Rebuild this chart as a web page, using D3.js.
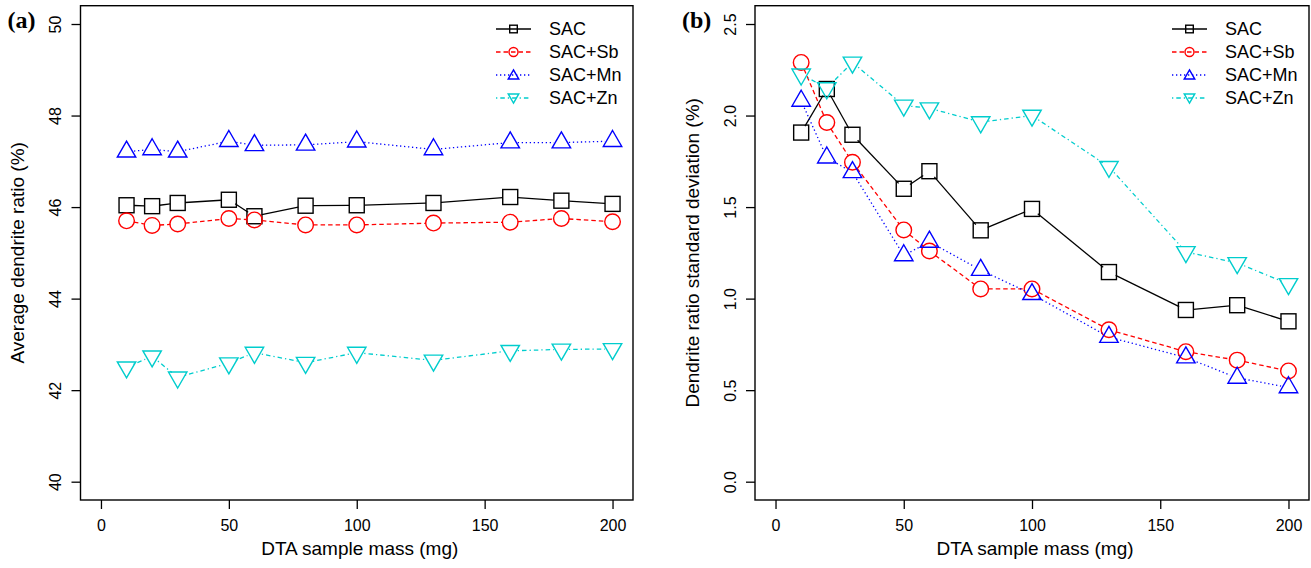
<!DOCTYPE html>
<html>
<head>
<meta charset="utf-8">
<script src="https://cdn.jsdelivr.net/npm/d3@7"></script>
<style>
  body { margin: 0; background: #fff; }
  svg { display: block; }
  text { font-family: "Liberation Sans", Arial, Helvetica, sans-serif; fill: #000; }
</style>
</head>
<body>
<svg id="chart" width="1311" height="568"></svg>
<script>
// ---------- data ----------
const mass = [10, 20, 30, 50, 60, 80, 100, 130, 160, 180, 200];
const seriesNames = ["SAC", "SAC+Sb", "SAC+Mn", "SAC+Zn"];

// Panel (a): average dendrite ratio (%)
const avgSAC = [46.04, 46.02, 46.09, 46.16, 45.80, 46.03, 46.04, 46.09, 46.22, 46.14, 46.07];
const avgSb  = [45.70, 45.60, 45.63, 45.75, 45.72, 45.61, 45.61, 45.65, 45.67, 45.75, 45.68];
const avgMn  = [47.21, 47.26, 47.21, 47.44, 47.35, 47.36, 47.43, 47.26, 47.41, 47.41, 47.44];
const avgZn  = [42.50, 42.74, 42.28, 42.59, 42.82, 42.60, 42.82, 42.65, 42.86, 42.89, 42.90];

// Panel (b): dendrite ratio standard deviation (%)
const sdSAC = [1.907, 2.145, 1.895, 1.600, 1.696, 1.373, 1.490, 1.145, 0.938, 0.964, 0.876];
const sdSb  = [2.290, 1.962, 1.745, 1.375, 1.260, 1.053, 1.053, 0.830, 0.710, 0.664, 0.605];
const sdMn  = [2.080, 1.770, 1.690, 1.236, 1.310, 1.156, 1.024, 0.790, 0.678, 0.567, 0.515];
const sdZn  = [2.225, 2.150, 2.290, 2.055, 2.040, 1.964, 2.000, 1.720, 1.255, 1.195, 1.080];

const xTicks = [0, 50, 100, 150, 200];
const yTicksA = [40, 42, 44, 46, 48, 50];
const yTicksB = [0.0, 0.5, 1.0, 1.5, 2.0, 2.5];

// ---------- styles ----------
const styles = [
  { color: "#000000", dash: null,        shape: "square" },
  { color: "#ff0000", dash: "4.5,3",     shape: "circle" },
  { color: "#0000ff", dash: "1.3,2.7",   shape: "up" },
  { color: "#00cdcd", dash: "1.3,3,4.5,3", shape: "down" }
];

const svg = d3.select("#chart");

function marker(g, shape, cx, cy, size, color) {
  if (shape === "square") {
    g.append("rect").attr("x", cx - size).attr("y", cy - size)
      .attr("width", 2 * size).attr("height", 2 * size)
      .attr("fill", "none").attr("stroke", color).attr("stroke-width", 1.4);
  } else if (shape === "circle") {
    g.append("circle").attr("cx", cx).attr("cy", cy).attr("r", size)
      .attr("fill", "none").attr("stroke", color).attr("stroke-width", 1.4);
  } else {
    const r = size * 1.42;
    const hw = r * 0.866, b = r / 2;
    const s = shape === "up" ? 1 : -1;
    const p = `M${cx},${cy - s * r} L${cx + hw},${cy + s * b} L${cx - hw},${cy + s * b} Z`;
    g.append("path").attr("d", p)
      .attr("fill", "none").attr("stroke", color).attr("stroke-width", 1.4);
  }
}

function panel(opts) {
  const { left, right, top, bottom, yDomain, yTicks, yFmt, data, yTitle, tag } = opts;
  const x = d3.scaleLinear().domain([-8, 208]).range([left, right]);
  const y = d3.scaleLinear().domain(yDomain).range([bottom, top]);
  const g = svg.append("g");

  const xa = g.append("g").attr("transform", `translate(0,${bottom})`)
    .call(d3.axisBottom(x).tickValues(xTicks).tickSize(9).tickPadding(6).tickFormat(d3.format("d")));
  xa.select(".domain").remove();
  xa.selectAll("line").attr("stroke", "#000").attr("stroke-width", 1.3);
  xa.selectAll("text").attr("font-size", 16).attr("y", 25).attr("dy", "0.35em")
    .style("font-family", '"Liberation Sans", Arial, sans-serif');

  const ya = g.append("g").attr("transform", `translate(${left},0)`)
    .call(d3.axisLeft(y).tickValues(yTicks).tickSize(9).tickFormat(yFmt));
  ya.select(".domain").remove();
  ya.selectAll("line").attr("stroke", "#000").attr("stroke-width", 1.3);
  ya.selectAll("text").attr("x", null).attr("dy", "0.35em").attr("text-anchor", "middle")
    .attr("font-size", 16).attr("transform", "translate(-25,0) rotate(-90)")
    .style("font-family", '"Liberation Sans", Arial, sans-serif');

  g.append("rect").attr("x", left).attr("y", top)
    .attr("width", right - left).attr("height", bottom - top)
    .attr("fill", "none").attr("stroke", "#000").attr("stroke-width", 1.4);

  g.append("text").attr("x", (left + right) / 2 + 3).attr("y", 548).attr("dy", "0.35em")
    .attr("text-anchor", "middle").attr("font-size", 19).text("DTA sample mass (mg)");
  g.append("text").attr("transform", `translate(${left - 63},${(top + bottom) / 2}) rotate(-90)`)
    .attr("dy", "0.35em").attr("text-anchor", "middle").attr("font-size", 19).text(yTitle);

  g.append("text").attr("x", left - 73).attr("y", 28)
    .style("font-family", '"Liberation Serif", "Times New Roman", serif')
    .attr("font-weight", "bold").attr("font-size", 24).text(tag);

  const gap = 7.5;
  data.forEach((vals, i) => {
    const st = styles[i];
    const pts = mass.map((m, j) => [x(m), y(vals[j])]);
    const sg = g.append("g");
    for (let j = 0; j < pts.length - 1; j++) {
      const [x0, y0] = pts[j], [x1, y1] = pts[j + 1];
      const L = Math.hypot(x1 - x0, y1 - y0);
      if (L <= 2 * gap) continue;
      const ux = (x1 - x0) / L, uy = (y1 - y0) / L;
      sg.append("line")
        .attr("x1", x0 + ux * gap).attr("y1", y0 + uy * gap)
        .attr("x2", x1 - ux * gap).attr("y2", y1 - uy * gap)
        .attr("stroke", st.color).attr("stroke-width", 1.3)
        .attr("stroke-dasharray", st.dash);
    }
    pts.forEach(([px, py]) => marker(sg, st.shape, px, py, st.shape === "circle" ? 7.8 : 7.5, st.color));
  });

  const lx0 = right - 137, lx1 = right - 102, lmx = right - 119.5, ltx = right - 84;
  const rows = [29, 52, 75, 98];
  seriesNames.forEach((name, i) => {
    const st = styles[i];
    const ry = rows[i];
    g.append("line").attr("x1", lx0).attr("x2", lx1).attr("y1", ry).attr("y2", ry)
      .attr("stroke", st.color).attr("stroke-width", 1.3).attr("stroke-dasharray", st.dash);
    marker(g, st.shape, lmx, ry + (st.shape === "up" ? 1 : st.shape === "down" ? -1 : 0),
      st.shape === "circle" ? 4.5 : (st.shape === "square" ? 3.8 : 4.3), st.color);
    g.append("text").attr("x", ltx).attr("y", ry).attr("dy", "0.35em")
      .attr("font-size", 18).text(name);
  });
}

panel({
  left: 80.5, right: 633, top: 5.7, bottom: 500,
  yDomain: [39.6, 50.4], yTicks: yTicksA, yFmt: d3.format("d"),
  data: [avgSAC, avgSb, avgMn, avgZn],
  yTitle: "Average dendrite ratio (%)", tag: "(a)"
});

panel({
  left: 755, right: 1309, top: 5.7, bottom: 500,
  yDomain: [-0.1, 2.6], yTicks: yTicksB, yFmt: d3.format(".1f"),
  data: [sdSAC, sdSb, sdMn, sdZn],
  yTitle: "Dendrite ratio standard deviation (%)", tag: "(b)"
});
</script>
</body>
</html>
